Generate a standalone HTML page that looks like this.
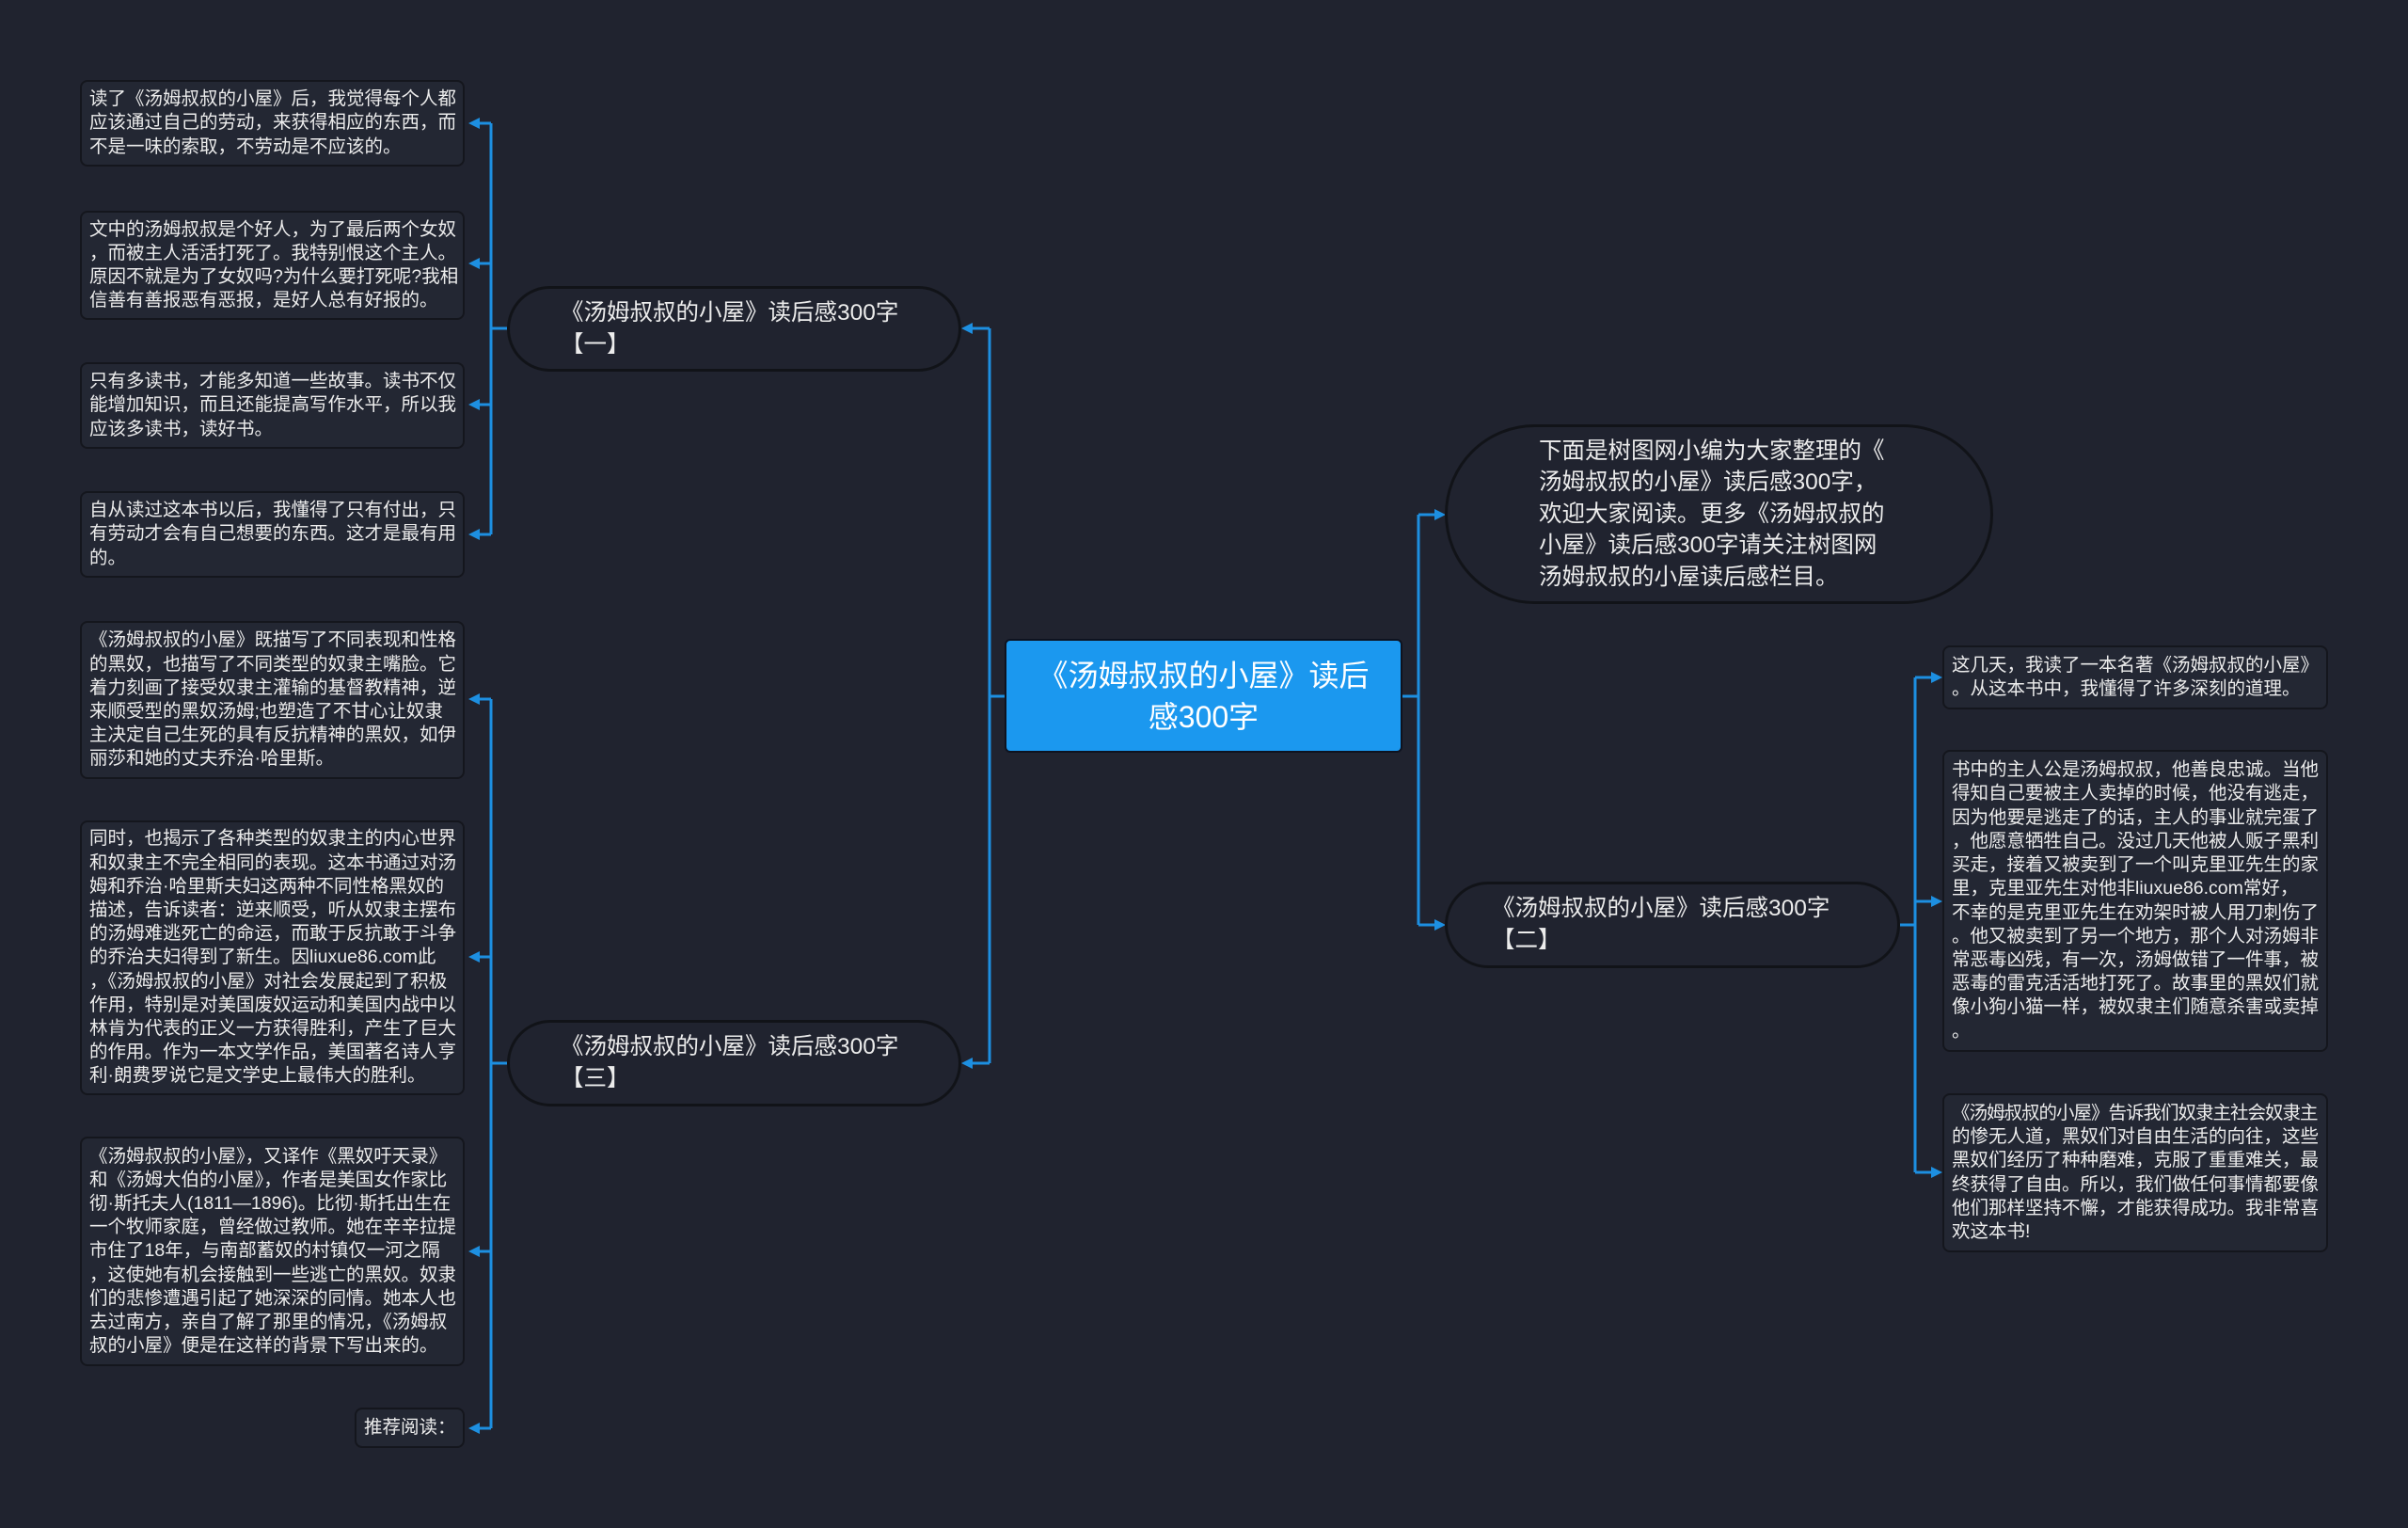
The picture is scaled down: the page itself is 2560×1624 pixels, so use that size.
<!DOCTYPE html>
<html><head><meta charset="utf-8"><style>
body{margin:0;width:2560px;height:1624px;background:#20232f;overflow:hidden;position:relative;font-family:"Liberation Sans","Noto Sans CJK SC",sans-serif;color:#ececec}
.leaf{position:absolute;box-sizing:border-box;background:#232733;border:2px solid #14161d;border-radius:8px;display:flex;align-items:center;padding:0 8px;font-size:19.5px;line-height:25.2px;white-space:nowrap;overflow:hidden}
.mid{position:absolute;box-sizing:border-box;background:#20232f;border:3px solid #111318;border-radius:60px;font-size:24.5px;line-height:34px;white-space:nowrap;display:flex;align-items:center}
svg{position:absolute;left:0;top:0}
</style></head><body>
<svg width="2560" height="1624">
<g stroke="#1d8fe1" stroke-width="3" fill="none">
<path d="M1068 740H1052M1052 349V1130M1052 349H1030M1052 1130H1030"/>
<path d="M1491 740H1508M1508 547V983M1508 547H1530M1508 983H1530"/>
<path d="M539 349H522M522 131V568M522 131H504M522 280H504M522 430H504M522 568H504"/>
<path d="M539 1130H522M522 743V1518M522 743H504M522 1017H504M522 1330H504M522 1518H504"/>
<path d="M2020 983H2036M2036 720V1246M2036 720H2058M2036 958H2058M2036 1246H2058"/>
</g>
<g fill="#1d8fe1">
<polygon points="1022,349 1034,343 1034,355"/><polygon points="1022,1130 1034,1124 1034,1136"/>
<polygon points="1537,547 1525,541 1525,553"/><polygon points="1537,983 1525,977 1525,989"/>
<polygon points="498,131 510,125 510,137"/><polygon points="498,280 510,274 510,286"/><polygon points="498,430 510,424 510,436"/><polygon points="498,568 510,562 510,574"/>
<polygon points="498,743 510,737 510,749"/><polygon points="498,1017 510,1011 510,1023"/><polygon points="498,1330 510,1324 510,1336"/><polygon points="498,1518 510,1512 510,1524"/>
<polygon points="2065,720 2053,714 2053,726"/><polygon points="2065,958 2053,952 2053,964"/><polygon points="2065,1246 2053,1240 2053,1252"/>
</g>
</svg>

<div style="position:absolute;left:1068px;top:679px;width:423px;height:121px;box-sizing:border-box;background:#1b98ef;border:2px solid #0e1320;border-radius:6px;display:flex;align-items:center;justify-content:center;text-align:center;font-size:32px;line-height:44px;color:#fff">《汤姆叔叔的小屋》读后<br>感300字</div>

<div class="mid" style="left:1536px;top:451px;width:583px;height:191px;border-radius:96px;padding-left:97px;line-height:33.5px">下面是树图网小编为大家整理的《<br>汤姆叔叔的小屋》读后感300字，<br>欢迎大家阅读。更多《汤姆叔叔的<br>小屋》读后感300字请关注树图网<br>汤姆叔叔的小屋读后感栏目。</div>
<div class="mid" style="left:1536px;top:937px;width:484px;height:92px;border-radius:46px;padding-left:47px">《汤姆叔叔的小屋》读后感300字<br>【二】</div>
<div class="mid" style="left:539px;top:304px;width:483px;height:91px;border-radius:46px;padding-left:54px">《汤姆叔叔的小屋》读后感300字<br>【一】</div>
<div class="mid" style="left:539px;top:1084px;width:483px;height:92px;border-radius:46px;padding-left:54px">《汤姆叔叔的小屋》读后感300字<br>【三】</div>

<div class="leaf" style="left:85px;top:85px;width:409px;height:92px">读了《汤姆叔叔的小屋》后，我觉得每个人都<br>应该通过自己的劳动，来获得相应的东西，而<br>不是一味的索取，不劳动是不应该的。</div>
<div class="leaf" style="left:85px;top:224px;width:409px;height:116px">文中的汤姆叔叔是个好人，为了最后两个女奴<br>，而被主人活活打死了。我特别恨这个主人。<br>原因不就是为了女奴吗?为什么要打死呢?我相<br>信善有善报恶有恶报，是好人总有好报的。</div>
<div class="leaf" style="left:85px;top:385px;width:409px;height:92px">只有多读书，才能多知道一些故事。读书不仅<br>能增加知识，而且还能提高写作水平，所以我<br>应该多读书，读好书。</div>
<div class="leaf" style="left:85px;top:522px;width:409px;height:92px">自从读过这本书以后，我懂得了只有付出，只<br>有劳动才会有自己想要的东西。这才是最有用<br>的。</div>
<div class="leaf" style="left:85px;top:660px;width:409px;height:168px">《汤姆叔叔的小屋》既描写了不同表现和性格<br>的黑奴，也描写了不同类型的奴隶主嘴脸。它<br>着力刻画了接受奴隶主灌输的基督教精神，逆<br>来顺受型的黑奴汤姆;也塑造了不甘心让奴隶<br>主决定自己生死的具有反抗精神的黑奴，如伊<br>丽莎和她的丈夫乔治·哈里斯。</div>
<div class="leaf" style="left:85px;top:872px;width:409px;height:292px">同时，也揭示了各种类型的奴隶主的内心世界<br>和奴隶主不完全相同的表现。这本书通过对汤<br>姆和乔治·哈里斯夫妇这两种不同性格黑奴的<br>描述，告诉读者：逆来顺受，听从奴隶主摆布<br>的汤姆难逃死亡的命运，而敢于反抗敢于斗争<br>的乔治夫妇得到了新生。因liuxue86.com此<br>，《汤姆叔叔的小屋》对社会发展起到了积极<br>作用，特别是对美国废奴运动和美国内战中以<br>林肯为代表的正义一方获得胜利，产生了巨大<br>的作用。作为一本文学作品，美国著名诗人亨<br>利·朗费罗说它是文学史上最伟大的胜利。</div>
<div class="leaf" style="left:85px;top:1208px;width:409px;height:244px">《汤姆叔叔的小屋》，又译作《黑奴吁天录》<br>和《汤姆大伯的小屋》，作者是美国女作家比<br>彻·斯托夫人(1811—1896)。比彻·斯托出生在<br>一个牧师家庭，曾经做过教师。她在辛辛拉提<br>市住了18年，与南部蓄奴的村镇仅一河之隔<br>，这使她有机会接触到一些逃亡的黑奴。奴隶<br>们的悲惨遭遇引起了她深深的同情。她本人也<br>去过南方，亲自了解了那里的情况，《汤姆叔<br>叔的小屋》便是在这样的背景下写出来的。</div>
<div class="leaf" style="left:377px;top:1496px;width:117px;height:43px">推荐阅读：</div>

<div class="leaf" style="left:2065px;top:686px;width:410px;height:68px">这几天，我读了一本名著《汤姆叔叔的小屋》<br>。从这本书中，我懂得了许多深刻的道理。</div>
<div class="leaf" style="left:2065px;top:797px;width:410px;height:321px">书中的主人公是汤姆叔叔，他善良忠诚。当他<br>得知自己要被主人卖掉的时候，他没有逃走，<br>因为他要是逃走了的话，主人的事业就完蛋了<br>，他愿意牺牲自己。没过几天他被人贩子黑利<br>买走，接着又被卖到了一个叫克里亚先生的家<br>里，克里亚先生对他非liuxue86.com常好，<br>不幸的是克里亚先生在劝架时被人用刀刺伤了<br>。他又被卖到了另一个地方，那个人对汤姆非<br>常恶毒凶残，有一次，汤姆做错了一件事，被<br>恶毒的雷克活活地打死了。故事里的黑奴们就<br>像小狗小猫一样，被奴隶主们随意杀害或卖掉<br>。</div>
<div class="leaf" style="left:2065px;top:1162px;width:410px;height:169px"><div><span style="letter-spacing:-1px">《汤姆叔叔的小屋》告诉我们奴隶主社会奴隶主</span><br>的惨无人道，黑奴们对自由生活的向往，这些<br>黑奴们经历了种种磨难，克服了重重难关，最<br>终获得了自由。所以，我们做任何事情都要像<br>他们那样坚持不懈，才能获得成功。我非常喜<br>欢这本书!</div></div>
</body></html>
